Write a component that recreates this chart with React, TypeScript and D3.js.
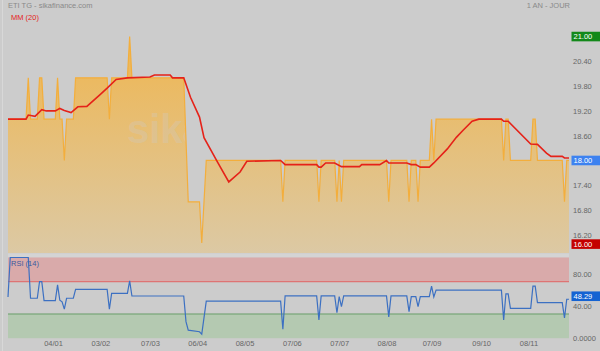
import React, { useEffect, useRef } from 'react';
import * as d3 from 'd3';

// daily closes, one per trading day
const PRICE: number[] = [
  19, 19, 19, 19, 19, 19, 19, 19, 19, 20,
  19, 19, 19, 19, 20, 20, 19, 19, 19, 19,
  19, 19, 20, 19, 19, 18, 19, 19, 19, 19,
  20, 20, 20, 20, 20, 20, 20, 20, 20, 20,
  20, 20, 20, 20, 20, 19, 20, 20, 20, 20,
  20, 20, 20, 20, 21, 20, 20, 20, 20, 20,
  20, 20, 20, 20, 20, 20, 20, 20, 20, 20,
  20, 20, 20, 20, 20, 20, 20, 20, 20, 18.5,
  17, 17, 17, 17, 17, 17, 16, 17, 18, 18,
  18, 18, 18, 18, 18, 18, 18, 18, 18, 18,
  18, 18, 18, 18, 18, 18, 18, 18, 18, 18,
  18, 18, 18, 18, 18, 18, 18, 18, 18, 18,
  18, 18, 17, 18, 18, 18, 18, 18, 18, 18,
  18, 18, 18, 18, 18, 18, 18, 18, 17, 18,
  18, 18, 18, 18, 18, 18, 17, 18, 17, 18,
  18, 18, 18, 18, 18, 18, 18, 18, 18, 18,
  18, 18, 18, 18, 18, 18, 18, 18, 18, 17,
  18, 18, 18, 18, 18, 18, 18, 18, 17, 18,
  18, 18, 17, 18, 18, 18, 18, 18, 19, 18,
  19, 19, 19, 19, 19, 19, 19, 19, 19, 19,
  19, 19, 19, 19, 19, 19, 19, 19, 19, 19,
  19, 19, 19, 19, 19, 19, 19, 19, 19, 19,
  18, 19, 19, 18, 18, 18, 18, 18, 18, 18,
  18, 18, 18, 19, 19, 18, 18, 18, 18, 18,
  18, 18, 18, 18, 18, 18, 18, 17, 18, 18,
];

// MM (20): [day, value]
const MM20: [number, number][] = [
  [0, 19], [8, 19], [9, 19.1], [12, 19.07], [15, 19.23], [17, 19.2], [21, 19.2],
  [23, 19.26], [25, 19.21], [28, 19.16], [31, 19.3], [35, 19.31], [41, 19.6],
  [44, 19.75], [48, 19.96], [53, 20], [63, 20.02], [65, 20.07], [72, 20.07],
  [73, 20], [78, 20], [81, 19.53], [85, 19.05], [87, 18.55], [93, 17.96],
  [98, 17.48], [103, 17.72], [106, 17.98], [121, 18], [123, 17.9], [137, 17.9],
  [138, 17.84], [139, 17.84], [141, 17.94], [145, 17.94], [148, 17.85], [156, 17.85],
  [157, 17.9], [165, 17.9], [168, 18], [169, 17.94], [177, 17.94], [179, 17.9],
  [181, 17.9], [183, 17.84], [187, 17.84], [189, 17.94], [195, 18.28], [199, 18.56],
  [202, 18.73], [206, 18.95], [209, 19], [219, 19], [220, 18.95], [222, 18.95],
  [232, 18.4], [235, 18.39], [239, 18.18], [241, 18.1], [246, 18.1], [247, 18.06],
  [249, 18.06],
];

// RSI (14): [day, value]
const RSI: [number, number][] = [
  [0, 51], [1, 100], [9, 100], [10, 49.5], [13, 49.5], [14, 70], [15, 70],
  [16, 46.5], [21, 46.5], [22, 66], [23, 47], [24, 45], [25, 36], [26, 49.5],
  [29, 49.5], [30, 60.5], [44, 60.5], [45, 36], [46, 55.5], [53, 55.5], [54, 71],
  [55, 52.3], [78, 52.3], [79, 20.5], [80, 10], [85, 8], [86, 5], [88, 46],
  [121, 46], [122, 11], [123, 52.5], [137, 52.5], [138, 22.5], [139, 52.5],
  [145, 52.5], [146, 31.5], [147, 51.5], [148, 39], [149, 52.5], [168, 52.5],
  [169, 26.5], [170, 52.5], [177, 52.5], [178, 33], [179, 51.5], [181, 51.5],
  [182, 39], [183, 51.5], [187, 51.5], [188, 64.5], [189, 51], [190, 59.5],
  [219, 59.5], [220, 22.5], [221, 55], [222, 55], [223, 37], [232, 37],
  [233, 64.5], [234, 64.5], [235, 44], [246, 44], [247, 25], [248, 48.29],
  [249, 48.29],
];

const X_TICKS = [20, 41, 63, 84, 105, 126, 147, 168, 188, 210, 231];
const X_LABELS = ['04/01', '03/02', '07/03', '06/04', '08/05', '07/06', '07/07', '08/08', '07/09', '09/10', '08/11'];
const PRICE_TICKS = [16.2, 16.8, 17.4, 18.0, 18.6, 19.2, 19.8, 20.4, 21.0];
const RSI_TICKS = [0, 40, 80];
const RSI_LABELS = ['0.0000', '40.00', '80.00'];

const FONT = 'Liberation Sans, Arial, sans-serif';

const App = () => {
  const svgRef = useRef<SVGSVGElement>(null);

  useEffect(() => {
    const W = 600;
    const H = 351;
    const left = 8;
    const right = 569;

    d3.select(svgRef.current).selectAll('*').remove();
    const svg = d3.select(svgRef.current).attr('width', W).attr('height', H);

    const x = d3.scaleLinear().domain([0, PRICE.length - 1]).range([left, right]);
    const y = d3.scaleLinear().domain([15.76, 21.8]).range([253, 3.5]);
    const yr = d3.scaleLinear().domain([0, 100]).range([338.2, 257.5]);

    // background
    svg.append('rect').attr('width', W).attr('height', H).attr('fill', '#cccccc');
    svg.append('line')
      .attr('x1', 2.5).attr('x2', 2.5).attr('y1', 0).attr('y2', H)
      .attr('stroke', '#d8d8d8');
    svg.append('rect')
      .attr('x', left).attr('y', 253.5).attr('width', right - left).attr('height', 4)
      .attr('fill', '#d4d4d4');

    // gradient for price area
    const defs = svg.append('defs');
    const grad = defs.append('linearGradient')
      .attr('id', 'priceFill')
      .attr('gradientUnits', 'userSpaceOnUse')
      .attr('x1', 0).attr('x2', 0)
      .attr('y1', y(21)).attr('y2', 253);
    grad.append('stop').attr('offset', 0).attr('stop-color', '#efb651');
    grad.append('stop').attr('offset', 1).attr('stop-color', '#dcc9a4');

    const area = d3.area<number>()
      .x((d, i) => x(i))
      .y0(253)
      .y1(d => y(d));
    svg.append('path')
      .datum(PRICE)
      .attr('fill', 'url(#priceFill)')
      .attr('d', area);

    // watermark
    svg.append('text')
      .attr('x', 127)
      .attr('y', 143)
      .attr('font-family', FONT)
      .attr('font-weight', 'bold')
      .attr('font-size', 40)
      .attr('fill', '#cccccc')
      .attr('fill-opacity', 0.3)
      .text('sikafinance');

    const priceLine = d3.line<number>()
      .x((d, i) => x(i))
      .y(d => y(d));
    svg.append('path')
      .datum(PRICE)
      .attr('fill', 'none')
      .attr('stroke', '#f3ae3c')
      .attr('stroke-width', 1.2)
      .attr('d', priceLine);

    // MM (20)
    const pairLine = d3.line<[number, number]>()
      .x(d => x(d[0]))
      .y(d => y(d[1]));
    svg.append('path')
      .datum(MM20)
      .attr('fill', 'none')
      .attr('stroke', '#e52219')
      .attr('stroke-width', 1.6)
      .attr('d', pairLine);

    // RSI panel
    svg.append('rect')
      .attr('x', left).attr('y', yr(100)).attr('width', right - left).attr('height', yr(70) - yr(100))
      .attr('fill', '#d9aaaa');
    svg.append('rect')
      .attr('x', left).attr('y', yr(30)).attr('width', right - left).attr('height', yr(0) - yr(30))
      .attr('fill', '#b4c9b1');
    svg.append('line')
      .attr('x1', left).attr('x2', right).attr('y1', yr(70)).attr('y2', yr(70))
      .attr('stroke', '#e06464').attr('stroke-width', 1);
    svg.append('line')
      .attr('x1', left).attr('x2', right).attr('y1', yr(30)).attr('y2', yr(30))
      .attr('stroke', '#6a9e6a').attr('stroke-width', 1);

    const rsiLine = d3.line<[number, number]>()
      .x(d => x(d[0]))
      .y(d => yr(d[1]));
    svg.append('path')
      .datum(RSI)
      .attr('fill', 'none')
      .attr('stroke', '#3c70c2')
      .attr('stroke-width', 1.2)
      .attr('d', rsiLine);

    // titles
    svg.append('text')
      .attr('x', 8).attr('y', 7.5)
      .attr('font-family', FONT).attr('font-size', 7.5)
      .attr('fill', '#8a8a8a')
      .text('ETI TG - sikafinance.com');
    svg.append('text')
      .attr('x', 11).attr('y', 19.5)
      .attr('font-family', FONT).attr('font-size', 7.5)
      .attr('fill', '#e52219')
      .text('MM (20)');
    svg.append('text')
      .attr('x', 570).attr('y', 7.5)
      .attr('text-anchor', 'end')
      .attr('font-family', FONT).attr('font-size', 7.5)
      .attr('fill', '#8a8a8a')
      .text('1 AN - JOUR');
    svg.append('text')
      .attr('x', 11).attr('y', 265.5)
      .attr('font-family', FONT).attr('font-size', 7.5)
      .attr('fill', '#3a5a9e')
      .text('RSI (14)');

    // right axis, price
    svg.append('g')
      .attr('transform', `translate(${right + 4},0)`)
      .call(d3.axisRight(y).tickValues(PRICE_TICKS).tickSize(0).tickPadding(0).tickFormat(d3.format('.2f')))
      .call(g => g.select('.domain').remove())
      .selectAll('text')
      .attr('font-family', FONT)
      .attr('font-size', 7.5)
      .attr('fill', '#666');

    // right axis, rsi
    svg.append('g')
      .attr('transform', `translate(${right + 4},0)`)
      .call(d3.axisRight(yr).tickValues(RSI_TICKS).tickSize(0).tickPadding(0)
        .tickFormat((d, i) => RSI_LABELS[i]))
      .call(g => g.select('.domain').remove())
      .selectAll('text')
      .attr('font-family', FONT)
      .attr('font-size', 7.5)
      .attr('fill', '#666');

    // value boxes
    const box = (yy: number, color: string, txt: string) => {
      svg.append('rect')
        .attr('x', 571.5).attr('y', yy - 4.8).attr('width', 28.5).attr('height', 9.6)
        .attr('fill', color);
      svg.append('text')
        .attr('x', 573.5).attr('y', yy)
        .attr('dy', '0.35em')
        .attr('font-family', FONT).attr('font-size', 7.5)
        .attr('fill', 'white')
        .text(txt);
    };
    const maxP = d3.max(PRICE) as number;
    const minP = d3.min(PRICE) as number;
    const lastP = PRICE[PRICE.length - 1];
    const lastR = RSI[RSI.length - 1][1];
    box(y(maxP), '#13891a', maxP.toFixed(2));
    box(y(lastP), '#3d82f0', lastP.toFixed(2));
    box(y(minP) + 1, '#c40000', minP.toFixed(2));
    box(yr(lastR) - 3, '#1563d2', lastR.toFixed(2));

    // bottom axis
    svg.append('g')
      .attr('transform', `translate(0,${338})`)
      .call(d3.axisBottom(x).tickValues(X_TICKS).tickSize(0).tickPadding(3)
        .tickFormat((d, i) => X_LABELS[i]))
      .call(g => g.select('.domain').remove())
      .selectAll('text')
      .attr('font-family', FONT)
      .attr('font-size', 7.5)
      .attr('fill', '#666');
  }, []);

  return <svg ref={svgRef} style={{ position: 'absolute', left: 0, top: 0, display: 'block' }} />;
};

export default App;
